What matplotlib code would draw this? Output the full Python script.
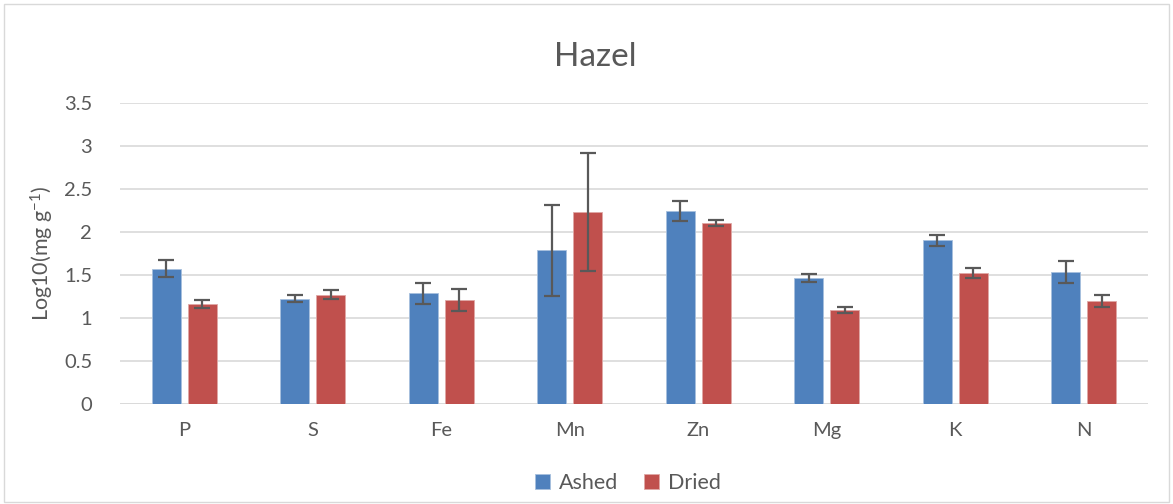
import matplotlib
matplotlib.use("Agg")
import matplotlib.pyplot as plt
import numpy as np
from matplotlib.patches import Rectangle

categories = ["P", "S", "Fe", "Mn", "Zn", "Mg", "K", "N"]
ashed = [1.575, 1.225, 1.287, 1.785, 2.244, 1.466, 1.902, 1.536]
ashed_err = [0.10, 0.04, 0.125, 0.53, 0.12, 0.047, 0.062, 0.132]
dried = [1.163, 1.272, 1.206, 2.233, 2.10, 1.093, 1.521, 1.194]
dried_err = [0.045, 0.055, 0.13, 0.69, 0.035, 0.037, 0.058, 0.07]
yticks = [0, 0.5, 1, 1.5, 2, 2.5, 3, 3.5]
ytick_labels = ["0", "0.5", "1", "1.5", "2", "2.5", "3", "3.5"]

plt.rcParams['font.family'] = ['Lato', 'DejaVu Sans']
plt.rcParams['mathtext.default'] = 'regular'
W, H = 1173, 504
fig = plt.figure(figsize=(W/100, H/100), dpi=100)
ax = fig.add_axes([120/W, 1-404/H, (1148-120)/W, (404-103)/H])

x = np.arange(len(categories))
bw = 0.222
off = 0.14
blue = "#4F81BD"
red = "#C0504D"
ekw = dict(ecolor="#595959", elinewidth=1.6, capsize=6, capthick=1.6)
ax.bar(x - off, ashed, bw, color=blue, edgecolor="#A7C0DE", linewidth=0.6,
       yerr=ashed_err, error_kw=ekw, label="Ashed", zorder=3)
ax.bar(x + off, dried, bw, color=red, edgecolor="#E0A8A6", linewidth=0.6,
       yerr=dried_err, error_kw=ekw, label="Dried", zorder=3)

ax.set_xlim(-0.5, len(categories) - 0.5)
ax.set_ylim(0, 3.5)
ax.set_yticks(yticks)
ax.set_yticklabels(ytick_labels)
ax.set_xticks(x)
ax.set_xticklabels(categories)
ax.tick_params(axis='both', length=0, labelsize=14.5, colors="#595959")
ax.tick_params(axis='y', pad=20)
ax.tick_params(axis='x', pad=13)
ax.grid(axis='y', color="#D9D9D9", linewidth=1.2, zorder=0)
ax.set_axisbelow(True)
for s in ["top", "right", "left", "bottom"]:
    ax.spines[s].set_visible(False)
ax.axhline(0, color="#D9D9D9", linewidth=1.2, zorder=2)

ax.set_ylabel("Log10(mg g$^{-1}$)", fontsize=15.5, color="#595959", labelpad=6)
fig.text(595/W, 1-57/H, "Hazel", ha="center", va="center", fontsize=24, color="#595959")

leg = ax.legend(loc="center", bbox_to_anchor=((628-120)/(1148-120), -(483-404)/(404-103)),
                ncol=2, frameon=False, fontsize=15.5, handlelength=0.7, handleheight=0.7,
                columnspacing=1.2, handletextpad=0.4)
for t in leg.get_texts():
    t.set_color("#595959")

fig.patches.append(Rectangle((4/W, 2/H), (W-8)/W, (H-6)/H, transform=fig.transFigure,
                             fill=False, edgecolor="#D9D9D9", linewidth=1.0))

fig.savefig("out.png", dpi=100)
